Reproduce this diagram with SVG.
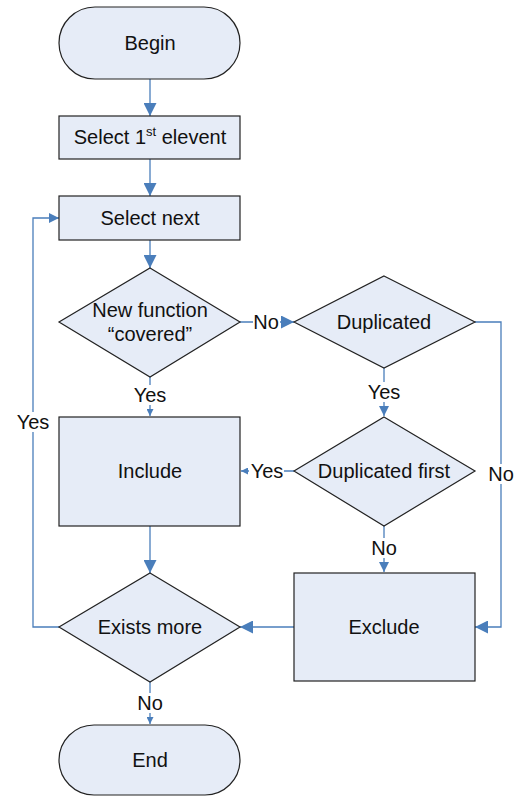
<svg xmlns="http://www.w3.org/2000/svg" width="515" height="796" viewBox="0 0 515 796">
<style>
.shape{fill:#e6ecf7;stroke:#222;stroke-width:1.2}
.conn{fill:none;stroke:#4a7ebb;stroke-width:1.3}
text{font-family:"Liberation Sans",Arial,sans-serif;font-size:20px;fill:#111;text-anchor:middle}
.bg{fill:#fff}
</style>
<defs>
<marker id="aL" viewBox="0 0 10 10" refX="10" refY="5" markerUnits="userSpaceOnUse" markerWidth="14" markerHeight="13" orient="auto"><path d="M0,0 L10,5 L0,10 z" fill="#4a7ebb"/></marker>
<marker id="aM" viewBox="0 0 10 10" refX="10" refY="5" markerUnits="userSpaceOnUse" markerWidth="10" markerHeight="10" orient="auto"><path d="M0,0 L10,5 L0,10 z" fill="#4a7ebb"/></marker>
<marker id="aS" viewBox="0 0 10 10" refX="10" refY="5" markerUnits="userSpaceOnUse" markerWidth="7" markerHeight="7" orient="auto"><path d="M0,0 L10,5 L0,10 z" fill="#4a7ebb"/></marker>
</defs>
<rect width="515" height="796" fill="#fff"/>
<g id="connectors">
<path class="conn" d="M150,79 V116" marker-end="url(#aL)"/>
<path class="conn" d="M150,159 V196" marker-end="url(#aL)"/>
<path class="conn" d="M150,240 V268" marker-end="url(#aL)"/>
<path class="conn" d="M240,322 H294" marker-end="url(#aL)"/>
<path class="conn" d="M150,377 V416" marker-end="url(#aS)"/>
<path class="conn" d="M384,368 V416" marker-end="url(#aM)"/>
<path class="conn" d="M475,322 H501 V627 H475" marker-end="url(#aL)"/>
<path class="conn" d="M294,471 H241" marker-end="url(#aS)"/>
<path class="conn" d="M384,526 V572" marker-end="url(#aM)"/>
<path class="conn" d="M150,526 V573" marker-end="url(#aL)"/>
<path class="conn" d="M294,627 H240" marker-end="url(#aL)"/>
<path class="conn" d="M59,627 H33 V218 H59" marker-end="url(#aM)"/>
<path class="conn" d="M150,682 V724" marker-end="url(#aS)"/>
</g>
<g id="labels">
<rect class="bg" x="253" y="312" width="27" height="20"/><text x="266" y="329">No</text>
<rect class="bg" x="132" y="385" width="36" height="20"/><text x="150" y="402">Yes</text>
<rect class="bg" x="366" y="382" width="36" height="20"/><text x="384" y="399">Yes</text>
<rect class="bg" x="249" y="461" width="35" height="20"/><text x="267" y="478">Yes</text>
<rect class="bg" x="370" y="538" width="28" height="20"/><text x="384" y="555">No</text>
<rect class="bg" x="487" y="464" width="28" height="20"/><text x="501" y="481">No</text>
<rect class="bg" x="15" y="412" width="36" height="20"/><text x="33" y="429">Yes</text>
<rect class="bg" x="136" y="693" width="28" height="20"/><text x="150" y="710">No</text>
</g>
<g id="begin"><rect class="shape" x="59" y="7" width="181" height="72" rx="36"/><text x="150" y="50">Begin</text></g>
<g id="select1"><rect class="shape" x="59" y="116" width="181" height="43"/><text x="150" y="144">Select 1<tspan font-size="13" dy="-8">st</tspan><tspan dy="8"> elevent</tspan></text></g>
<g id="selectnext"><rect class="shape" x="59" y="196" width="181" height="44"/><text x="150" y="225">Select next</text></g>
<g id="newfunction"><polygon class="shape" points="150,268 240,322 150,377 59,322"/><text x="150" y="317">New function</text><text x="150" y="341">“covered”</text></g>
<g id="duplicated"><polygon class="shape" points="384,276 475,322 384,368 294,322"/><text x="384" y="329">Duplicated</text></g>
<g id="include"><rect class="shape" x="59" y="417" width="181" height="109"/><text x="150" y="478">Include</text></g>
<g id="dupfirst"><polygon class="shape" points="384,417 475,471 384,526 294,471"/><text x="384" y="478">Duplicated first</text></g>
<g id="exclude"><rect class="shape" x="294" y="573" width="181" height="108"/><text x="384" y="634">Exclude</text></g>
<g id="exists"><polygon class="shape" points="150,573 240,627 150,682 59,627"/><text x="150" y="634">Exists more</text></g>
<g id="end"><rect class="shape" x="59" y="725" width="181" height="70" rx="35"/><text x="150" y="767">End</text></g>
</svg>
